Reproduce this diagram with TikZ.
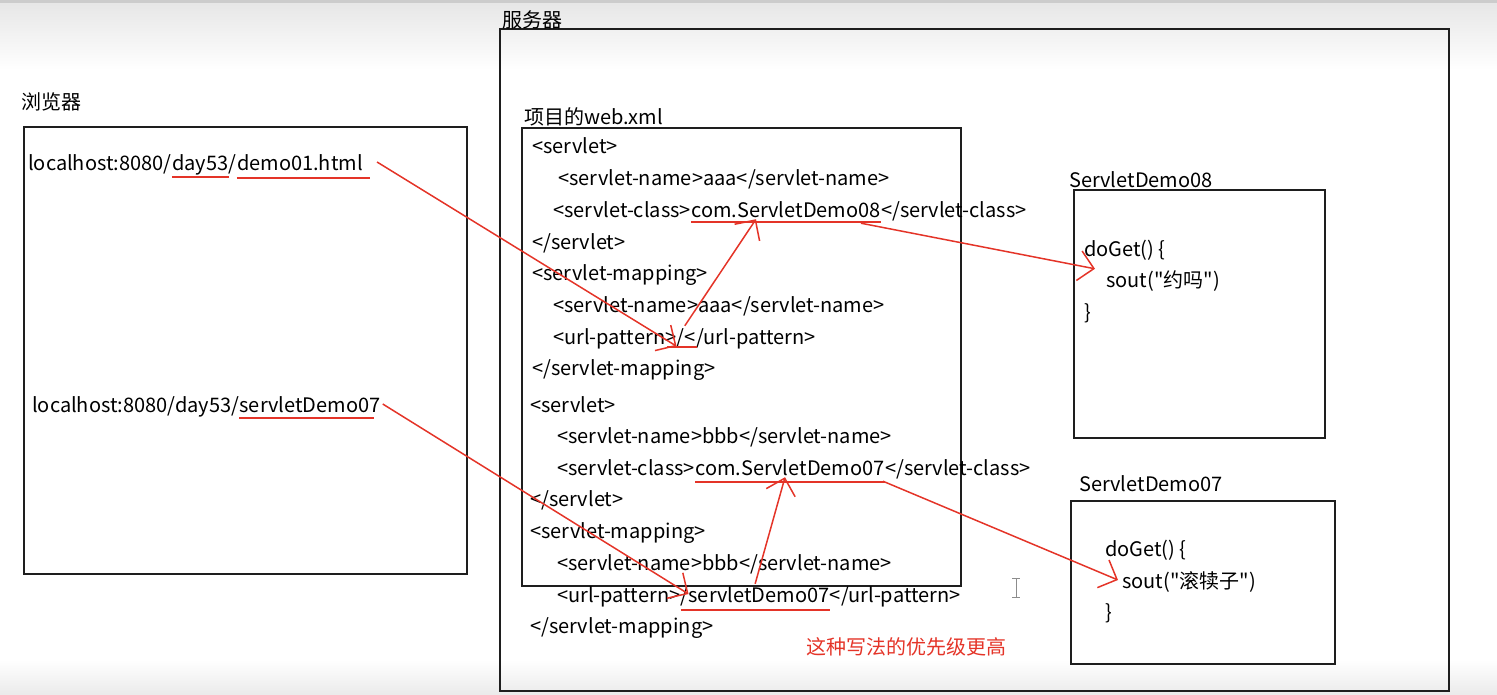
\documentclass[tikz,border=0pt]{standalone}
\usepackage{fontspec}
\newfontfamily\cnfont{Noto Sans CJK SC}
\usetikzlibrary{arrows.meta,positioning}
\definecolor{pen}{RGB}{228,52,40}
\definecolor{frameline}{RGB}{30,30,30}
\newcommand{\codefont}{\cnfont\fontsize{20}{24}\selectfont}

\begin{document}
\begin{tikzpicture}[x=1pt, y=-1pt,
    frame/.style={draw=frameline, line width=1.6pt, anchor=north west, inner sep=0pt},
    title/.style={anchor=west, inner sep=0pt, font=\codefont},
    code/.style={anchor=west, inner sep=0pt, text height=18pt, text depth=2pt, font=\codefont},
    uline/.style={draw=pen, line width=1.8pt},
    arrow/.style={pen, line width=1.5pt, -{Straight Barb[length=15pt, width=30pt]}}
]
\useasboundingbox (0,0) rectangle (1497,694);
% screen background
\fill[top color=black!10, bottom color=white] (0,0) rectangle (1497,70);
\fill[black!20] (0,0) rectangle (1497,3);
\fill[top color=white, bottom color=black!8] (0,660) rectangle (1497,694);

% boxes
\node[frame, minimum width=949pt, minimum height=662pt] (server) at (499,28) {};
\node[frame, minimum width=443pt, minimum height=447pt] (browser) at (23,126) {};
\node[frame, minimum width=439pt, minimum height=458pt] (webxml) at (521,127) {};
\node[frame, minimum width=251pt, minimum height=248pt] (demo08) at (1073,189) {};
\node[frame, minimum width=264pt, minimum height=163pt] (demo07) at (1070,500) {};

\node[title] (serverlbl) at (502,20) {服务器};
\node[title] (browserlbl) at (21,102) {浏览器};
\node[title] (xmllbl) at (524,117) {项目的web.xml};
\node[title] (demo08lbl) at (1069,180) {ServletDemo08};
\node[title] (demo07lbl) at (1079,484) {ServletDemo07};

% browser addresses
\node[code] (url1a) at (28,162) {localhost:8080/};
\node[code] (day1) at (url1a.east) {day53};
\node[code] (sl1) at (day1.east) {/};
\node[code] (dm01) at (sl1.east) {demo01.html};
\node[code] (url2a) at (32,404) {localhost:8080/day53/};
\node[code] (sd07) at (url2a.east) {servletDemo07};

% web.xml
\node[code] (s1) at (532,145) {<servlet>};
\node[code] (n1) at (558,177) {<servlet-name>aaa</servlet-name>};
\node[code] (cls8a) at (553,209) {<servlet-class>};
\node[code] (cls8) at (cls8a.east) {com.ServletDemo08};
\node[code] (cls8c) at (cls8.east) {</servlet-class>};
\node[code] (e1) at (532,241) {</servlet>};
\node[code] (m1) at (532,272) {<servlet-mapping>};
\node[code] (n2) at (553,304) {<servlet-name>aaa</servlet-name>};
\node[code] (pat1a) at (553,336) {<url-pattern>};
\node[code] (slash1) at (pat1a.east) {/};
\node[code] (pat1c) at (slash1.east) {</url-pattern>};
\node[code] (e2) at (532,367) {</servlet-mapping>};
\node[code] (s2) at (530,404) {<servlet>};
\node[code] (n3) at (557,435) {<servlet-name>bbb</servlet-name>};
\node[code] (cls7a) at (557,467) {<servlet-class>};
\node[code] (cls7) at (cls7a.east) {com.ServletDemo07};
\node[code] (cls7c) at (cls7.east) {</servlet-class>};
\node[code] (e3) at (530,498) {</servlet>};
\node[code] (m2) at (530,530) {<servlet-mapping>};
\node[code] (n4) at (557,562) {<servlet-name>bbb</servlet-name>};
\node[code] (pat7a) at (557,594) {<url-pattern>};
\node[code] (pat7) at (pat7a.east) {/servletDemo07};
\node[code] (pat7c) at (pat7.east) {</url-pattern>};
\node[code] (e4) at (530,625) {</servlet-mapping>};

% servlet classes
\node[code] (get8) at (1084,248) {doGet() \{};
\node[code] (sout8) at (1106,279) {sout("约吗")};
\node[code] (end8) at (1084,311) {\}};
\node[code] (get7) at (1105,548) {doGet() \{};
\node[code] (sout7) at (1122,580) {sout("滚犊子")};
\node[code] (end7) at (1105,611) {\}};

\node[title, text=pen] (note) at (806,647) {这种写法的优先级更高};

% text cursor
\draw[black!45, line width=1pt] (1016,578) -- (1016,597) (1012,578) -- (1020,578) (1012,597) -- (1020,597);

% underlines
\draw[uline] ([yshift=-5pt]day1.south west) -- ([yshift=-5pt]day1.south east);
\draw[uline] ([yshift=-6pt]dm01.south west) -- ([xshift=7pt,yshift=-6pt]dm01.south east);
\draw[uline] ([yshift=-4pt]sd07.south west) -- ([xshift=-7pt,yshift=-4pt]sd07.south east);
\draw[uline] ([yshift=-3pt]cls8.south west) -- ([yshift=-3pt]cls8.south east);
\draw[uline] ([xshift=-10pt,yshift=-1pt]slash1.south west) -- ([xshift=12pt,yshift=-1pt]slash1.south east);
\draw[uline] ([yshift=-5pt]cls7.south west) -- ([yshift=-5pt]cls7.south east);
\draw[uline] ([yshift=-6pt]pat7.south west) -- ([yshift=-6pt]pat7.south east);

% arrows
\draw[arrow] ([xshift=14pt]dm01.east) -- (slash1.south west);
\draw[arrow] (slash1.north east) -- ([xshift=-30pt]cls8.south);
\draw[arrow] ([xshift=-20pt,yshift=-4pt]cls8.south east) -- ([xshift=-11pt]sout8.north west);
\draw[arrow] ([xshift=2pt]sd07.east) -- ([xshift=8pt]pat7.west);
\draw[arrow] (pat7.north) -- ([xshift=-5pt]cls7.south);
\draw[arrow] ([xshift=-2pt,yshift=-4pt]cls7.south east) -- ([xshift=-4pt]sout7.west);
\end{tikzpicture}
\end{document}
